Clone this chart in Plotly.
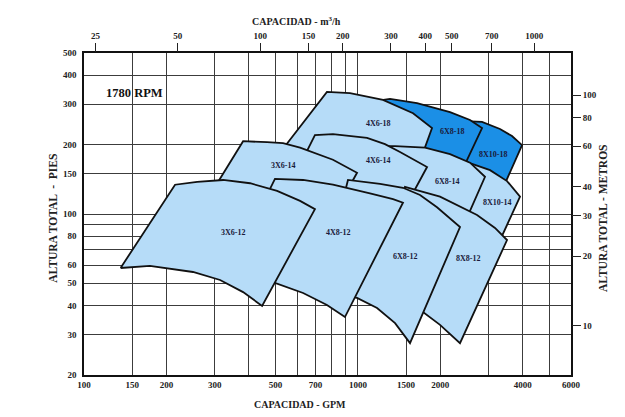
import math
import plotly.graph_objects as go

# ---- axis ticks ----
gpm_ticks = [100, 150, 200, 300, 500, 700, 1000, 1500, 2000, 4000, 6000]
gpm_minor = [400, 600, 800, 900, 3000, 5000]
ft_ticks = [20, 30, 40, 50, 60, 80, 100, 150, 200, 300, 400, 500]
ft_minor = [70, 90]
m3h_ticks = [25, 50, 100, 150, 200, 300, 400, 500, 700, 1000]
m_ticks = [10, 20, 30, 40, 60, 80, 100]

# ---- pump coverage regions (GPM, ft), outline ----
# order: back to front
names = ['8X10-18', '6X8-18', '4X6-18', '8X10-14', '6X8-14', '4X6-14', '3X6-14',
         '8X8-12', '6X8-12', '4X8-12', '3X6-12']

gpm_8x10_18 = [2461, 2840, 3303, 3654, 3975, 3303, 2792, 2360, 2170]
ft_8x10_18 = [253, 251, 234, 218, 199, 121, 140.5, 155, 163]

gpm_6x8_18 = [1089, 1310, 1644, 2170, 2567, 2840, 2360, 1834, 1425, 1256]
ft_6x8_18 = [306, 316, 303, 277, 256, 236, 148, 163, 180, 190]

gpm_4x6_18 = [533, 771, 936, 1235, 1590, 1865, 1617, 1205, 860, 669]
ft_4x6_18 = [192, 339, 335, 313, 274, 236, 148, 172, 190, 182]

gpm_8x10_14 = [1995, 2503, 3038, 3504, 3909, 3038, 2567, 1995, 1834]
ft_8x10_14 = [172, 168, 155, 139, 119, 61.9, 69.8, 83.5, 89.6]

gpm_6x8_14 = [1062, 1367, 1759, 2170, 2567, 2912, 2263, 1686, 1310, 1062]
ft_6x8_14 = [197, 197, 194, 182, 167, 145, 73.4, 89.6, 104, 109]

gpm_4x6_14 = [542, 697, 811, 1080, 1256, 1425, 1789, 1344, 936, 669]
ft_4x6_14 = [121, 220, 222, 214, 201, 186, 160, 85.2, 99.0, 115]

gpm_3x6_14 = [296, 381, 466, 533, 615, 811, 993, 727, 520, 371]
ft_3x6_14 = [127, 207, 205, 203, 194, 172, 151, 77.1, 85.2, 104]

gpm_8x8_12 = [1256, 1486, 1995, 2723, 3167, 3504, 2360, 1995, 1729, 1367]
ft_8x8_12 = [42.3, 131, 119, 99.0, 87.0, 77.1, 27.5, 33.0, 37.5, 40.3]

gpm_6x8_12 = [727, 920, 1205, 1461, 1686, 1945, 2360, 1550, 1367, 1175, 993, 791]
ft_6x8_12 = [45.8, 140.5, 135, 130, 121, 107, 87.8, 27.5, 33.6, 39.1, 43.2, 45.4]

gpm_4x8_12 = [327, 498, 631, 811, 1107, 1344, 1461, 897, 771, 631, 498, 404]
ft_4x8_12 = [51.7, 142, 140.5, 134, 123, 116, 112, 35.7, 40.3, 45.4, 50.2, 50.7]

gpm_3x6_12 = [136, 215, 259, 322, 404, 507, 615, 697, 447, 381, 314, 250, 174]
ft_3x6_12 = [58.3, 134, 138, 140.5, 136, 126, 114, 105, 39.9, 45.8, 51.7, 56.0, 59.5]

region_gpm = [gpm_8x10_18, gpm_6x8_18, gpm_4x6_18, gpm_8x10_14, gpm_6x8_14, gpm_4x6_14,
              gpm_3x6_14, gpm_8x8_12, gpm_6x8_12, gpm_4x8_12, gpm_3x6_12]
region_ft = [ft_8x10_18, ft_6x8_18, ft_4x6_18, ft_8x10_14, ft_6x8_14, ft_4x6_14,
             ft_3x6_14, ft_8x8_12, ft_6x8_12, ft_4x8_12, ft_3x6_12]
dark = {'8X10-18', '6X8-18'}

# label positions (GPM, ft)
label_gpm = [3114, 2207, 1184, 3221, 2116, 1184, 533, 2524, 1486, 846, 350]
label_ft = [182, 229, 246, 112, 139, 170, 163, 64.4, 65.1, 83.5, 83.5]

LIGHT = '#b6dcf8'
DARK = '#1b8fe6'
FONT = 'Liberation Serif'
GRID = '#3c3c3c'

fig = go.Figure()
for name, xs, ys in zip(names, region_gpm, region_ft):
    fig.add_trace(go.Scatter(
        x=xs + xs[:1], y=ys + ys[:1], mode='lines', fill='toself',
        fillcolor=DARK if name in dark else LIGHT,
        line=dict(color='#111111', width=1.8), hoverinfo='skip', showlegend=False))

for name, lx, ly in zip(names, label_gpm, label_ft):
    fig.add_annotation(x=math.log10(lx), y=math.log10(ly), text='<b>%s</b>' % name,
                       showarrow=False, font=dict(family=FONT, size=8, color='#1a1a3a'))

axis_font = dict(family=FONT, size=9, color='#222222', weight='bold')
fig.update_layout(
    width=617, height=409,
    margin=dict(l=76, r=54, t=45, b=42, autoexpand=False),
    paper_bgcolor='white', plot_bgcolor='white',
    showlegend=False,
    xaxis=dict(type='log', range=[2, math.log10(6000)], tickvals=gpm_ticks,
               ticktext=[str(v) for v in gpm_ticks], automargin=False,
               showgrid=True, gridcolor=GRID, gridwidth=0.8, zeroline=False,
               minor=dict(tickvals=gpm_minor, showgrid=True, gridcolor=GRID, gridwidth=0.8, ticks=''),
               showline=True, linecolor='#111111', linewidth=1.5, mirror=True,
               ticks='', tickfont=axis_font),
    yaxis=dict(type='log', range=[math.log10(20), math.log10(500)], tickvals=ft_ticks,
               ticktext=[str(v) for v in ft_ticks], automargin=False,
               showgrid=True, gridcolor=GRID, gridwidth=0.8, zeroline=False,
               minor=dict(tickvals=ft_minor, showgrid=True, gridcolor=GRID, gridwidth=0.8, ticks=''),
               showline=True, linecolor='#111111', linewidth=1.5, mirror=True,
               ticks='', tickfont=axis_font, ticklabelstandoff=4),
    xaxis2=dict(type='log', overlaying='x', side='top', automargin=False,
                range=[math.log10(100 / 4.4029), math.log10(6000 / 4.4029)],
                tickvals=m3h_ticks, ticktext=[str(v) for v in m3h_ticks],
                showgrid=False, zeroline=False, ticks='outside', ticklen=9, tickwidth=1.2,
                tickcolor='#222222', tickfont=axis_font),
    yaxis2=dict(type='log', overlaying='y', side='right', automargin=False,
                range=[math.log10(20 / 3.2808), math.log10(500 / 3.2808)],
                tickvals=m_ticks, ticktext=[str(v) for v in m_ticks],
                showgrid=False, zeroline=False, ticks='outside', ticklen=9, tickwidth=1.2,
                tickcolor='#222222', tickfont=axis_font),
)
# empty trace binding the secondary axes
fig.add_trace(go.Scatter(x=[], y=[], xaxis='x2', yaxis='y2', showlegend=False, hoverinfo='skip'))

title_font = dict(family=FONT, size=10, color='#222222')
side_font = dict(family=FONT, size=11.5, color='#222222')
fig.add_annotation(xref='paper', yref='paper', x=0.437, y=1.099, xanchor='center', yanchor='middle',
                   text='<b>CAPACIDAD - m<sup>3</sup>/h</b>', showarrow=False, font=title_font)
fig.add_annotation(xref='paper', yref='paper', x=0.444, y=-0.093, xanchor='center', yanchor='middle',
                   text='<b>CAPACIDAD - GPM</b>', showarrow=False, font=title_font)
fig.add_annotation(xref='paper', yref='paper', x=-0.064, y=0.488, xanchor='center', yanchor='middle',
                   text='<b>ALTURA TOTAL  -  PIES</b>', showarrow=False, textangle=-90, font=side_font)
fig.add_annotation(xref='paper', yref='paper', x=1.066, y=0.488, xanchor='center', yanchor='middle',
                   text='<b>ALTURA TOTAL - METROS</b>', showarrow=False, textangle=-90, font=side_font)
fig.add_annotation(xref='paper', yref='paper', x=0.041, y=0.876, xanchor='left', yanchor='middle',
                   text='<b>1780 RPM</b>', showarrow=False,
                   font=dict(family=FONT, size=12.5, color='#111111'))

fig.write_html('out.html')
